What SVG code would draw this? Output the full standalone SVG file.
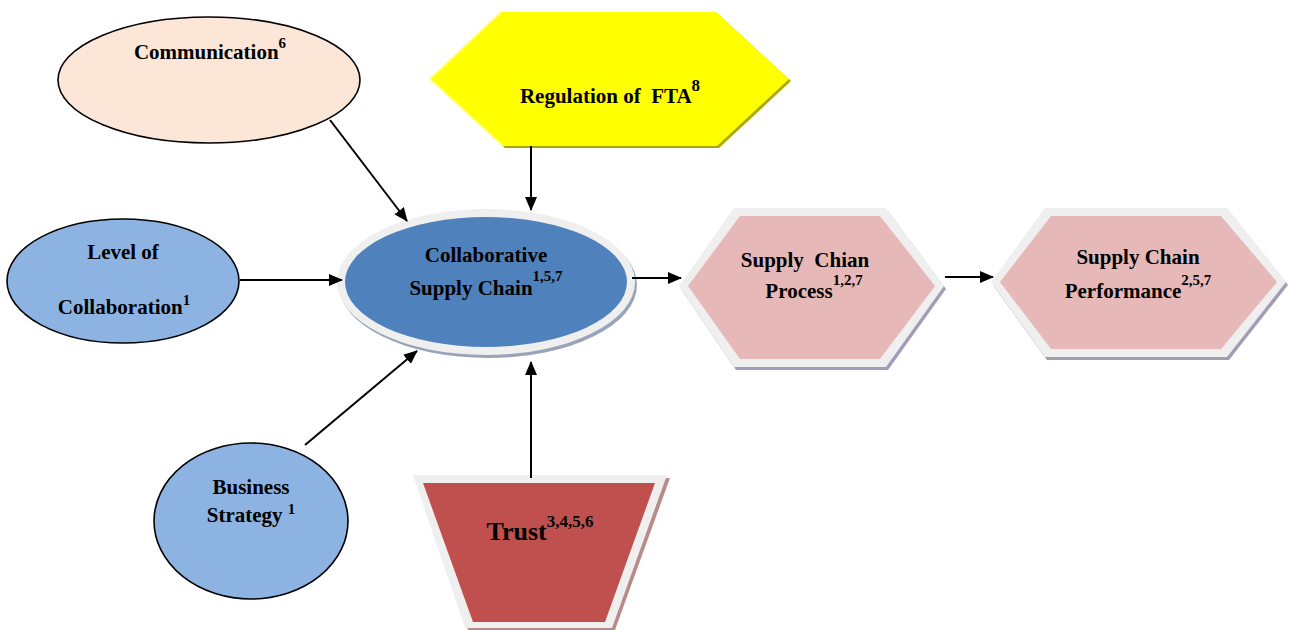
<svg xmlns="http://www.w3.org/2000/svg" width="1290" height="630" viewBox="0 0 1290 630">
<style>
text{font-family:"Liberation Serif","Times New Roman",serif;font-weight:bold;fill:#000;text-anchor:middle;white-space:pre}
.t{font-size:21px}
.big{font-size:26px}
.sup{font-size:15px}
.supb{font-size:17px}
.edge{stroke:#000;stroke-width:2;fill:none;marker-end:url(#ah)}
.oval{stroke:#000;stroke-width:1.6}
.halo{fill:#EFEFEF}
</style>
<defs>
<marker id="ah" markerUnits="userSpaceOnUse" markerWidth="14" markerHeight="12" refX="13" refY="6" orient="auto">
<path d="M0,0 L14,6 L0,12 z" fill="#000"/>
</marker>
</defs>

<g id="communication">
<ellipse class="oval" cx="209" cy="80" rx="151" ry="63" fill="#FCE6D8"/>
<text class="t" x="210" y="59">Communication<tspan class="sup" dy="-11">6</tspan></text>
</g>

<g id="level-of-collaboration">
<ellipse class="oval" cx="123" cy="281" rx="116" ry="62" fill="#8DB3E2"/>
<text class="t" x="123" y="259">Level of</text>
<text class="t" x="124" y="314">Collaboration<tspan class="sup" dy="-9">1</tspan></text>
</g>

<g id="business-strategy">
<ellipse class="oval" cx="251" cy="521" rx="97" ry="78" fill="#8DB3E2"/>
<text class="t" x="251" y="494">Business</text>
<text class="t" x="251" y="522">Strategy <tspan class="sup" dy="-8">1</tspan></text>
</g>

<g id="regulation-fta">
<polygon points="432,81 503,14 718,14 791,81 719,148 505,148" fill="#A8A800"/>
<polygon points="430,79 501,12 716,12 789,79 717,146 503,146" fill="#FFFF00"/>
<polyline points="503,146 430,79 501,12" fill="none" stroke="#FFFF80" stroke-width="2"/>
<text class="t" x="610" y="103">Regulation of  FTA<tspan class="supb" dy="-12">8</tspan></text>
</g>

<g id="collaborative-supply-chain">
<ellipse cx="488" cy="285" rx="149" ry="73" fill="#98A4BA"/>
<ellipse class="halo" cx="486" cy="282" rx="149" ry="73"/>
<ellipse cx="486" cy="282" rx="141" ry="65" fill="#4F81BD"/>
<text class="t" x="486" y="262">Collaborative</text>
<text class="t" x="486" y="295">Supply Chain<tspan class="sup" dy="-14">1,5,7</tspan></text>
</g>

<g id="supply-chain-process">
<polygon points="681,289 736,211 888,211 946,289 888,370 736,370" fill="#A29CB4"/>
<polygon class="halo" points="679,286 734,208 886,208 944,286 886,367 734,367"/>
<polygon points="688,286 740,216 880,216 935,286 880,359 740,359" fill="#E6B9B8"/>
<text class="t" x="805" y="267">Supply  Chian</text>
<text class="t" x="814" y="298">Process<tspan class="sup" dy="-13">1,2,7</tspan></text>
</g>

<g id="supply-chain-performance">
<polygon points="993,285 1047,211 1229,211 1288,285 1229,360 1047,360" fill="#A29CB4"/>
<polygon class="halo" points="991,282 1045,208 1227,208 1286,282 1227,357 1045,357"/>
<polygon points="1000,282 1051,216 1221,216 1277,282 1221,349 1051,349" fill="#E6B9B8"/>
<text class="t" x="1138" y="264">Supply Chain</text>
<text class="t" x="1138" y="298">Performance<tspan class="sup" dy="-13">2,5,7</tspan></text>
</g>

<g id="trust">
<polygon points="416,478 670,478 615,630 468,630" fill="#B98A8A"/>
<polygon class="halo" points="413,475 667,475 612,628 465,628"/>
<polygon points="423,483 655,483 605,622 473,622" fill="#C0504D"/>
<text x="540" y="540"><tspan class="big">Trust</tspan><tspan class="supb" dy="-13">3,4,5,6</tspan></text>
</g>

<g id="connectors">
<line class="edge" x1="330" y1="120" x2="407" y2="221"/>
<line class="edge" x1="240" y1="280" x2="342" y2="280"/>
<line class="edge" x1="305" y1="445" x2="417" y2="351"/>
<line class="edge" x1="531" y1="146" x2="531" y2="210"/>
<line class="edge" x1="531" y1="478" x2="531" y2="362"/>
<line class="edge" x1="632" y1="278" x2="681" y2="278"/>
<line class="edge" x1="945" y1="277" x2="993" y2="277"/>
</g>
</svg>
